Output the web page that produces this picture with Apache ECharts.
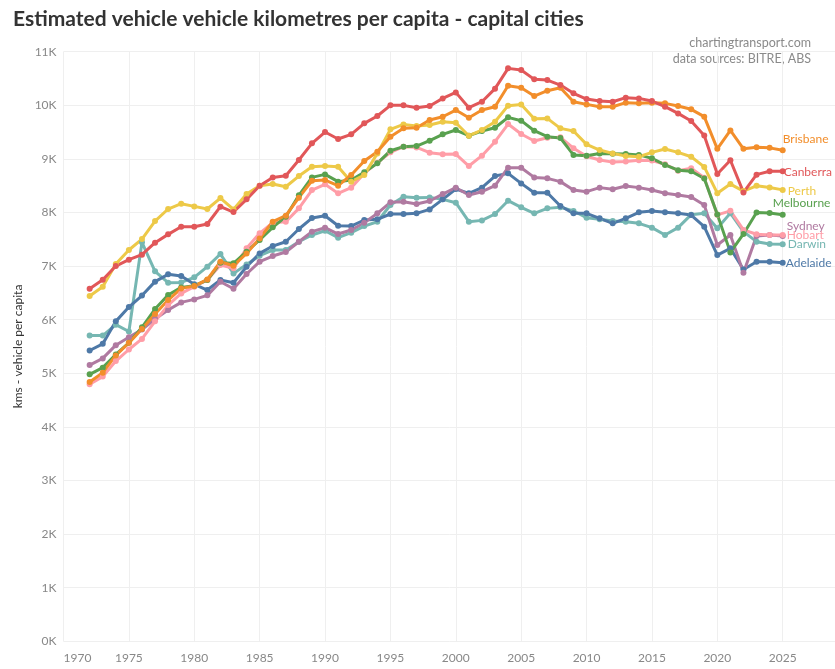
<!DOCTYPE html>
<html>
<head>
<meta charset="utf-8">
<script src="https://cdn.jsdelivr.net/npm/echarts@6/dist/echarts.min.js"></script>
<style>
html,body{margin:0;padding:0;background:#fff;}
#chart{width:835px;height:669px;}
</style>
</head>
<body>
<div id="chart"></div>
<script>
const years = [];
for (let y = 1972; y <= 2025; y++) years.push(y);

const xTicks = [1970, 1975, 1980, 1985, 1990, 1995, 2000, 2005, 2010, 2015, 2020, 2025];
const yTicksK = [0, 1, 2, 3, 4, 5, 6, 7, 8, 9, 10, 11];

const canberra = [6578,6746,7001,7119,7213,7437,7592,7735,7735,7785,8108,8009,8245,8500,8655,8687,8979,9290,9501,9371,9458,9663,9800,9999,9999,9955,9986,10129,10241,9955,10067,10310,10689,10658,10484,10471,10378,10223,10117,10080,10067,10142,10129,10080,9974,9849,9706,9438,8719,8975,8375,8706,8769,8769];
const brisbane = [4839,5012,5333,5568,5827,6105,6367,6584,6628,6752,7082,7007,7237,7517,7828,7940,8276,8593,8606,8500,8699,8960,9134,9414,9570,9582,9725,9787,9911,9768,9911,9973,10366,10328,10173,10272,10328,10067,10017,9974,9974,10049,10036,10049,10036,9986,9925,9788,9188,9531,9188,9219,9206,9163];
const perth = [6442,6616,7038,7300,7505,7841,8065,8164,8114,8065,8270,8058,8344,8500,8531,8481,8680,8855,8867,8855,8575,8699,9103,9551,9644,9613,9632,9694,9675,9433,9539,9694,9993,10017,9750,9756,9570,9520,9271,9165,9103,9053,9041,9122,9184,9122,9040,8850,8360,8530,8400,8497,8466,8422];
const melbourne = [4981,5105,5352,5568,5858,6198,6460,6603,6634,6740,7063,7051,7269,7487,7723,7922,8320,8655,8711,8575,8606,8749,8917,9153,9228,9240,9340,9458,9539,9433,9520,9582,9775,9713,9526,9414,9390,9075,9060,9100,9095,9090,9075,9010,8888,8790,8770,8635,7965,7256,7600,8000,7990,7956];
const hobart = [4796,4938,5228,5444,5642,5969,6273,6491,6616,6740,7020,6958,7331,7611,7810,7828,8077,8419,8525,8357,8463,8730,8929,9122,9228,9215,9115,9085,9091,8867,9060,9321,9650,9464,9333,9396,9402,9200,9050,8980,8940,8950,8975,8970,8900,8780,8825,8650,7956,8031,7675,7594,7581,7581];
const sydney = [5154,5278,5525,5673,5815,6012,6180,6323,6379,6454,6709,6578,6852,7082,7188,7262,7455,7642,7716,7598,7673,7810,7984,8189,8201,8158,8214,8344,8463,8326,8388,8500,8836,8836,8655,8637,8576,8421,8389,8464,8433,8495,8464,8421,8358,8327,8290,8140,7394,7581,6875,7563,7581,7563];
const darwin = [5704,5704,5907,5780,7443,6902,6690,6696,6790,6989,7225,6864,7032,7194,7300,7300,7455,7580,7660,7530,7623,7747,7828,8139,8295,8276,8282,8245,8183,7828,7853,7972,8220,8096,7984,8077,8100,8028,7904,7872,7841,7829,7798,7717,7580,7717,7960,7986,7706,7988,7644,7456,7413,7406];
const adelaide = [5426,5549,5969,6235,6451,6710,6846,6815,6660,6553,6740,6690,6989,7237,7374,7455,7692,7896,7940,7754,7747,7860,7872,7972,7972,7984,8058,8245,8438,8357,8463,8680,8730,8543,8369,8369,8122,7984,7984,7891,7798,7891,8003,8028,8003,7984,7953,7736,7206,7331,6938,7081,7081,7063];

const cities = [
  {name:'Darwin', values:darwin, color:'#76b7b2', offset:[2,0]},
  {name:'Adelaide', values:adelaide, color:'#4e79a7', offset:[0,0]},
  {name:'Sydney', values:sydney, color:'#b07aa1', offset:[1,-10]},
  {name:'Hobart', values:hobart, color:'#ff9da7', offset:[1,0]},
  {name:'Melbourne', values:melbourne, color:'#59a14f', offset:[-13,-12]},
  {name:'Perth', values:perth, color:'#edc948', offset:[2,1]},
  {name:'Brisbane', values:brisbane, color:'#f28e2b', offset:[-3,-11]},
  {name:'Canberra', values:canberra, color:'#e15759', offset:[-2,1]}
];

const FONT = 'Lato, "Open Sans", sans-serif';

const chart = echarts.init(document.getElementById('chart'), null, {renderer:'canvas'});
chart.setOption({
  animation: false,
  backgroundColor: '#fff',
  title: {
    text: 'Estimated vehicle vehicle kilometres per capita - capital cities',
    left: 8, top: 4,
    textStyle: {fontFamily: FONT, fontWeight: 'bold', fontSize: 21, color: '#333'}
  },
  graphic: [
    {type:'text', right: 24, top: 36, style:{text:'chartingtransport.com', fill:'#8a8a8a', font:'12.5px ' + FONT, textAlign:'right'}},
    {type:'text', right: 24, top: 52, style:{text:'data sources: BITRE, ABS', fill:'#8a8a8a', font:'12.5px ' + FONT, textAlign:'right'}}
  ],
  grid: {left: 63.5, right: 0, top: 51.7, bottom: 27.7, containLabel: false},
  xAxis: {
    type: 'value', min: 1970, max: 2029, interval: 5,
    axisLine: {show: false}, axisTick: {show: false},
    splitLine: {show: true, lineStyle: {color: '#efefef', width: 1}},
    axisLabel: {
      color: '#888', fontFamily: FONT, fontSize: 12, margin: 11,
      alignMinLabel: 'left', showMaxLabel: false,
      formatter: v => xTicks.indexOf(v) >= 0 ? String(v) : ''
    }
  },
  yAxis: {
    type: 'value', min: 0, max: 11000, interval: 1000,
    name: 'kms - vehicle per capita', nameLocation: 'middle', nameGap: 38,
    nameTextStyle: {color: '#333', fontFamily: FONT, fontSize: 12},
    axisLine: {show: false}, axisTick: {show: false},
    splitLine: {show: true, lineStyle: {color: '#efefef', width: 1}},
    axisLabel: {
      color: '#888', fontFamily: FONT, fontSize: 12, margin: 7,
      formatter: v => (yTicksK.indexOf(v/1000) >= 0 ? (v/1000) + 'K' : '')
    }
  },
  series: cities.map(c => ({
    name: c.name,
    type: 'line',
    data: years.map((y, i) => [y, c.values[i]]),
    symbol: 'circle', symbolSize: 6,
    lineStyle: {width: 3, color: c.color},
    itemStyle: {color: c.color},
    emphasis: {disabled: true},
    endLabel: {
      show: true, formatter: c.name, color: c.color,
      fontFamily: FONT, fontSize: 12, distance: 3, offset: c.offset
    }
  }))
});
</script>
</body>
</html>
